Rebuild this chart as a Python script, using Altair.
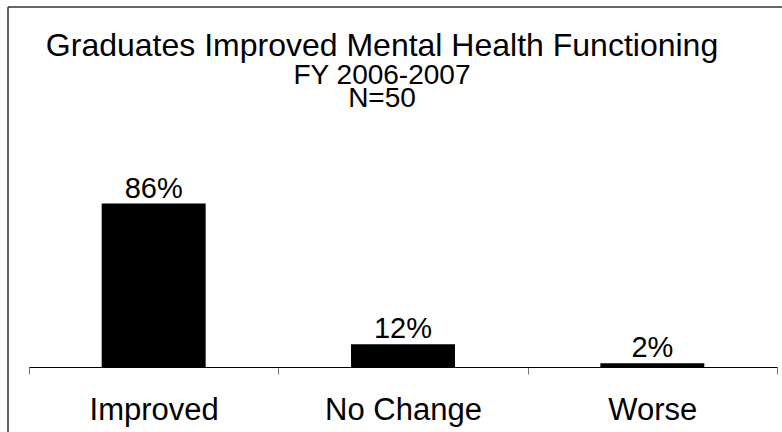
import altair as alt
import pandas as pd

categories = ["Improved", "No Change", "Worse"]
values = [86, 12, 2]
labels = ["86%", "12%", "2%"]
title_main = "Graduates Improved Mental Health Functioning"
title_sub1 = "FY 2006-2007"
title_sub2 = "N=50"

df = pd.DataFrame({"category": categories, "value": values, "label": labels})
one = pd.DataFrame({"k": [0]})

FONT = "Liberation Sans"

x = alt.X(
    "category:N",
    sort=categories,
    scale=alt.Scale(paddingInner=0, paddingOuter=0),
    axis=alt.Axis(
        title=None,
        labelAngle=0,
        labelFontSize=31,
        labelFont=FONT,
        labelColor="black",
        labelPadding=21,
        tickBand="extent",
        tickSize=7,
        tickColor="#777777",
        domainColor="black",
        domainWidth=1,
        grid=False,
    ),
)
y = alt.Y("value:Q", scale=alt.Scale(domain=[0, 100]), axis=None)

base = alt.Chart(df)
single = alt.Chart(one)

bars = base.mark_bar(color="black", width=alt.RelativeBandSize(0.417)).encode(x=x, y=y)
text = base.mark_text(
    baseline="alphabetic", dy=-6, fontSize=29, font=FONT, color="black"
).encode(x=x, y=y, text="label:N")

frame_top = single.mark_rule(color="#333333", strokeWidth=1.5).encode(
    x=alt.value(-21), x2=alt.value(800), y=alt.value(-170)
)
frame_left = single.mark_rule(color="#333333", strokeWidth=1.5).encode(
    x=alt.value(-21), y=alt.value(-170), y2=alt.value(300)
)

t1 = single.mark_text(fontSize=32, font=FONT, color="black", baseline="alphabetic").encode(
    x=alt.value(353), y=alt.value(-121), text=alt.value(title_main)
)
t2 = single.mark_text(fontSize=28, font=FONT, color="black", baseline="alphabetic").encode(
    x=alt.value(353), y=alt.value(-93), text=alt.value(title_sub1)
)
t3 = single.mark_text(fontSize=28, font=FONT, color="black", baseline="alphabetic").encode(
    x=alt.value(353), y=alt.value(-70), text=alt.value(title_sub2)
)

chart = (
    alt.layer(frame_top, frame_left, t1, t2, t3, bars, text)
    .properties(
        width=748,
        height=190,
        background="white",
        autosize=alt.AutoSizeParams(type="none"),
        padding={"left": 29, "top": 177, "right": 5, "bottom": 65},
    )
    .configure_view(stroke="transparent", strokeWidth=0)
)

chart.save("out.html", embed_options={"renderer": "svg", "actions": False})
